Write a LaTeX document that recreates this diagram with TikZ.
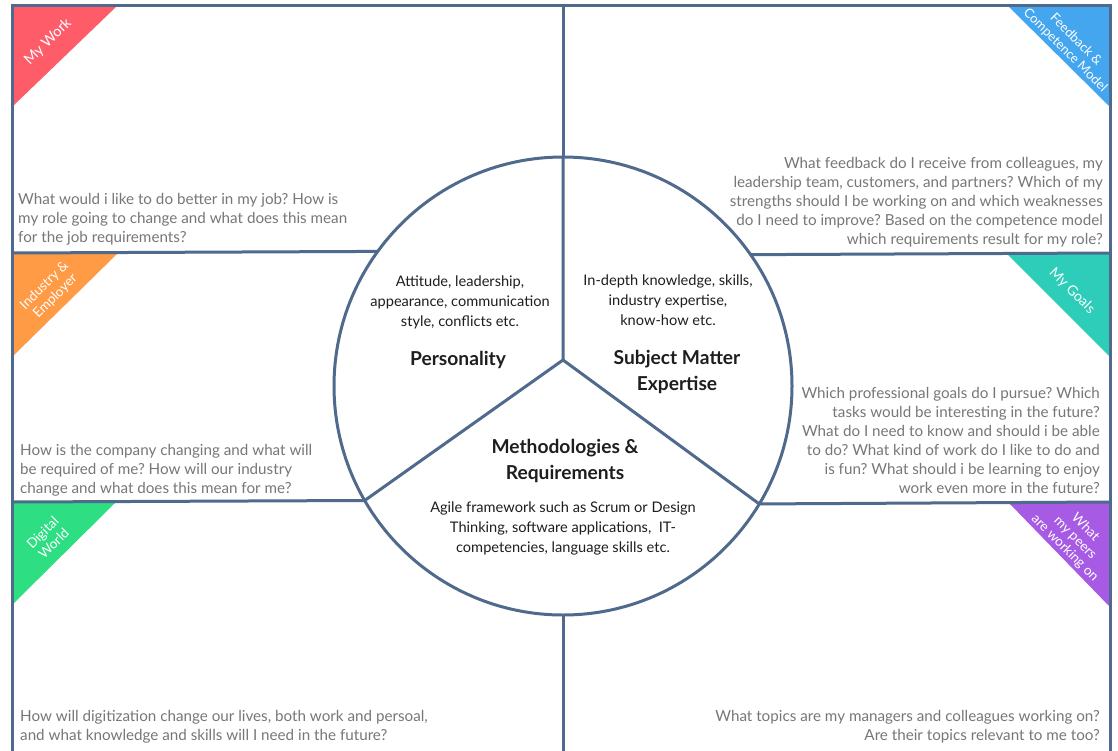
\documentclass[tikz,border=0pt]{standalone}
\usepackage{fontspec}
\setmainfont{Lato}
\usetikzlibrary{shapes.geometric}
\frenchspacing
\definecolor{frame}{HTML}{4F6A8C}
\definecolor{cred}{HTML}{FF5C69}
\definecolor{cblue}{HTML}{45A6F0}
\definecolor{corange}{HTML}{FF9A45}
\definecolor{cteal}{HTML}{2ECDB9}
\definecolor{cgreen}{HTML}{2EDE82}
\definecolor{cpurple}{HTML}{A75BE5}
\definecolor{qgray}{HTML}{777777}
\definecolor{ink}{HTML}{1E1E1E}
\tikzset{
  rule/.style={draw=frame, line width=3pt},
  corner/.style={text=white, font=\fontsize{13.5}{15.5}\selectfont, align=center, inner sep=0pt},
  question/.style={text=qgray, font=\fontsize{15.2}{19}\selectfont, inner sep=0pt},
  detail/.style={text=ink, font=\fontsize{14.6}{19.8}\selectfont, align=center, inner sep=0pt},
  title/.style={text=ink, font=\bfseries\fontsize{19.2}{25.5}\selectfont, align=center, inner sep=0pt}
}
\begin{document}
\begin{tikzpicture}[x=1pt,y=-1pt]
\useasboundingbox (0,0) rectangle (1118,750);
\fill[white] (0,0) rectangle (1118,750);
% corner tabs
\fill[cred] (13,6) -- (117,6) -- (13,106) -- cycle;
\fill[cblue] (1008,6) -- (1109,6) -- (1109,106) -- cycle;
\fill[corange] (13,254) -- (117,254) -- (13,356) -- cycle;
\fill[cteal] (1007,254) -- (1109,254) -- (1109,356) -- cycle;
\fill[cgreen] (13,503) -- (115,503) -- (13,604) -- cycle;
\fill[cpurple] (1009,503) -- (1109,503) -- (1109,606) -- cycle;
\node[corner, font=\fontsize{14.5}{15.5}\selectfont, rotate=45] (lwork) at (48,42) {My Work};
\node[corner, font=\fontsize{13}{15}\selectfont, rotate=-45] (lfeed) at (1070.5,45) {Feedback \&\\Competence Model};
\node[corner, rotate=45] (lind) at (50,291) {Industry \&\\Employer};
\node[corner, font=\fontsize{14}{15.5}\selectfont, rotate=-45] (lgoals) at (1072,291) {My Goals};
\node[corner, rotate=45] (ldig) at (48,538) {Digital\\World};
\node[corner, font=\fontsize{13.5}{14.5}\selectfont, rotate=-45] (lpeers) at (1075,538) {What\\my peers\\are working on};
% frame and partitions
\draw[rule, line join=miter] (12,752) -- (12,5) -- (1110,5) -- (1110,752);
\node[draw=frame, line width=3pt, circle, minimum size=458pt, inner sep=0pt, outer sep=0pt] (wheel) at (563,386) {};
\coordinate (hub) at (563,360);
\coordinate (topc) at (563,5);
\coordinate (botc) at (563,752);
\coordinate (l1) at (12,253);
\coordinate (r1) at (1110,253);
\coordinate (l2) at (12,502);
\coordinate (r2) at (1110,502);
\draw[rule] (topc) -- (wheel.north);
\draw[rule] (wheel.south) -- (botc);
\draw[rule] (l1) -- (wheel.144.5);
\draw[rule] (wheel.35.5) -- (r1);
\draw[rule] (l2) -- (wheel.210.4);
\draw[rule] (wheel.329.6) -- (r2);
\draw[rule, line join=round] (wheel.north) -- (hub) -- (wheel.210.4);
\draw[rule, line join=round] (hub) -- (wheel.329.6);
% questions
\node[question, align=left, anchor=north west] (qwork) at (18,193) {What would i like to do better in my job? How is\\my role going to change and what does this mean\\for the job requirements?};
\node[question, align=right, anchor=north east] (qfeed) at (1103,157) {What feedback do I receive from colleagues, my\\leadership team, customers, and partners? Which of my\\strengths should I be working on and which weaknesses\\do I need to improve? Based on the competence model\\which requirements result for my role?};
\node[question, align=left, anchor=north west] (qind) at (20,444) {How is the company changing and what will\\be required of me? How will our industry\\change and what does this mean for me?};
\node[question, align=right, anchor=north east] (qgoals) at (1100,387) {Which professional goals do I pursue? Which\\tasks would be interesting in the future?\\What do I need to know and should i be able\\to do? What kind of work do I like to do and\\is fun? What should i be learning to enjoy\\work even more in the future?};
\node[question, align=left, anchor=north west] (qdig) at (20,710) {How will digitization change our lives, both work and persoal,\\and what knowledge and skills will I need in the future?};
\node[question, align=right, anchor=north east] (qpeers) at (1100,710) {What topics are my managers and colleagues working on?\\Are their topics relevant to me too?};
% wheel contents
\node[detail, anchor=north] (dpers) at (460,276) {Attitude, leadership,\\appearance, communication\\style, conflicts etc.};
\node[title] (tpers) at (458,360) {Personality};
\node[detail, anchor=north] (dsme) at (668,275) {In-depth knowledge, skills,\\industry expertise,\\know-how etc.};
\node[title] (tsme) at (677,372) {Subject Matter\\Expertise};
\node[title] (tmeth) at (565,461) {Methodologies \&\\Requirements};
\node[detail, anchor=north] (dmeth) at (563,502) {Agile framework such as Scrum or Design\\Thinking, software applications,\ \ IT-\\competencies, language skills etc.};
\end{tikzpicture}
\end{document}
